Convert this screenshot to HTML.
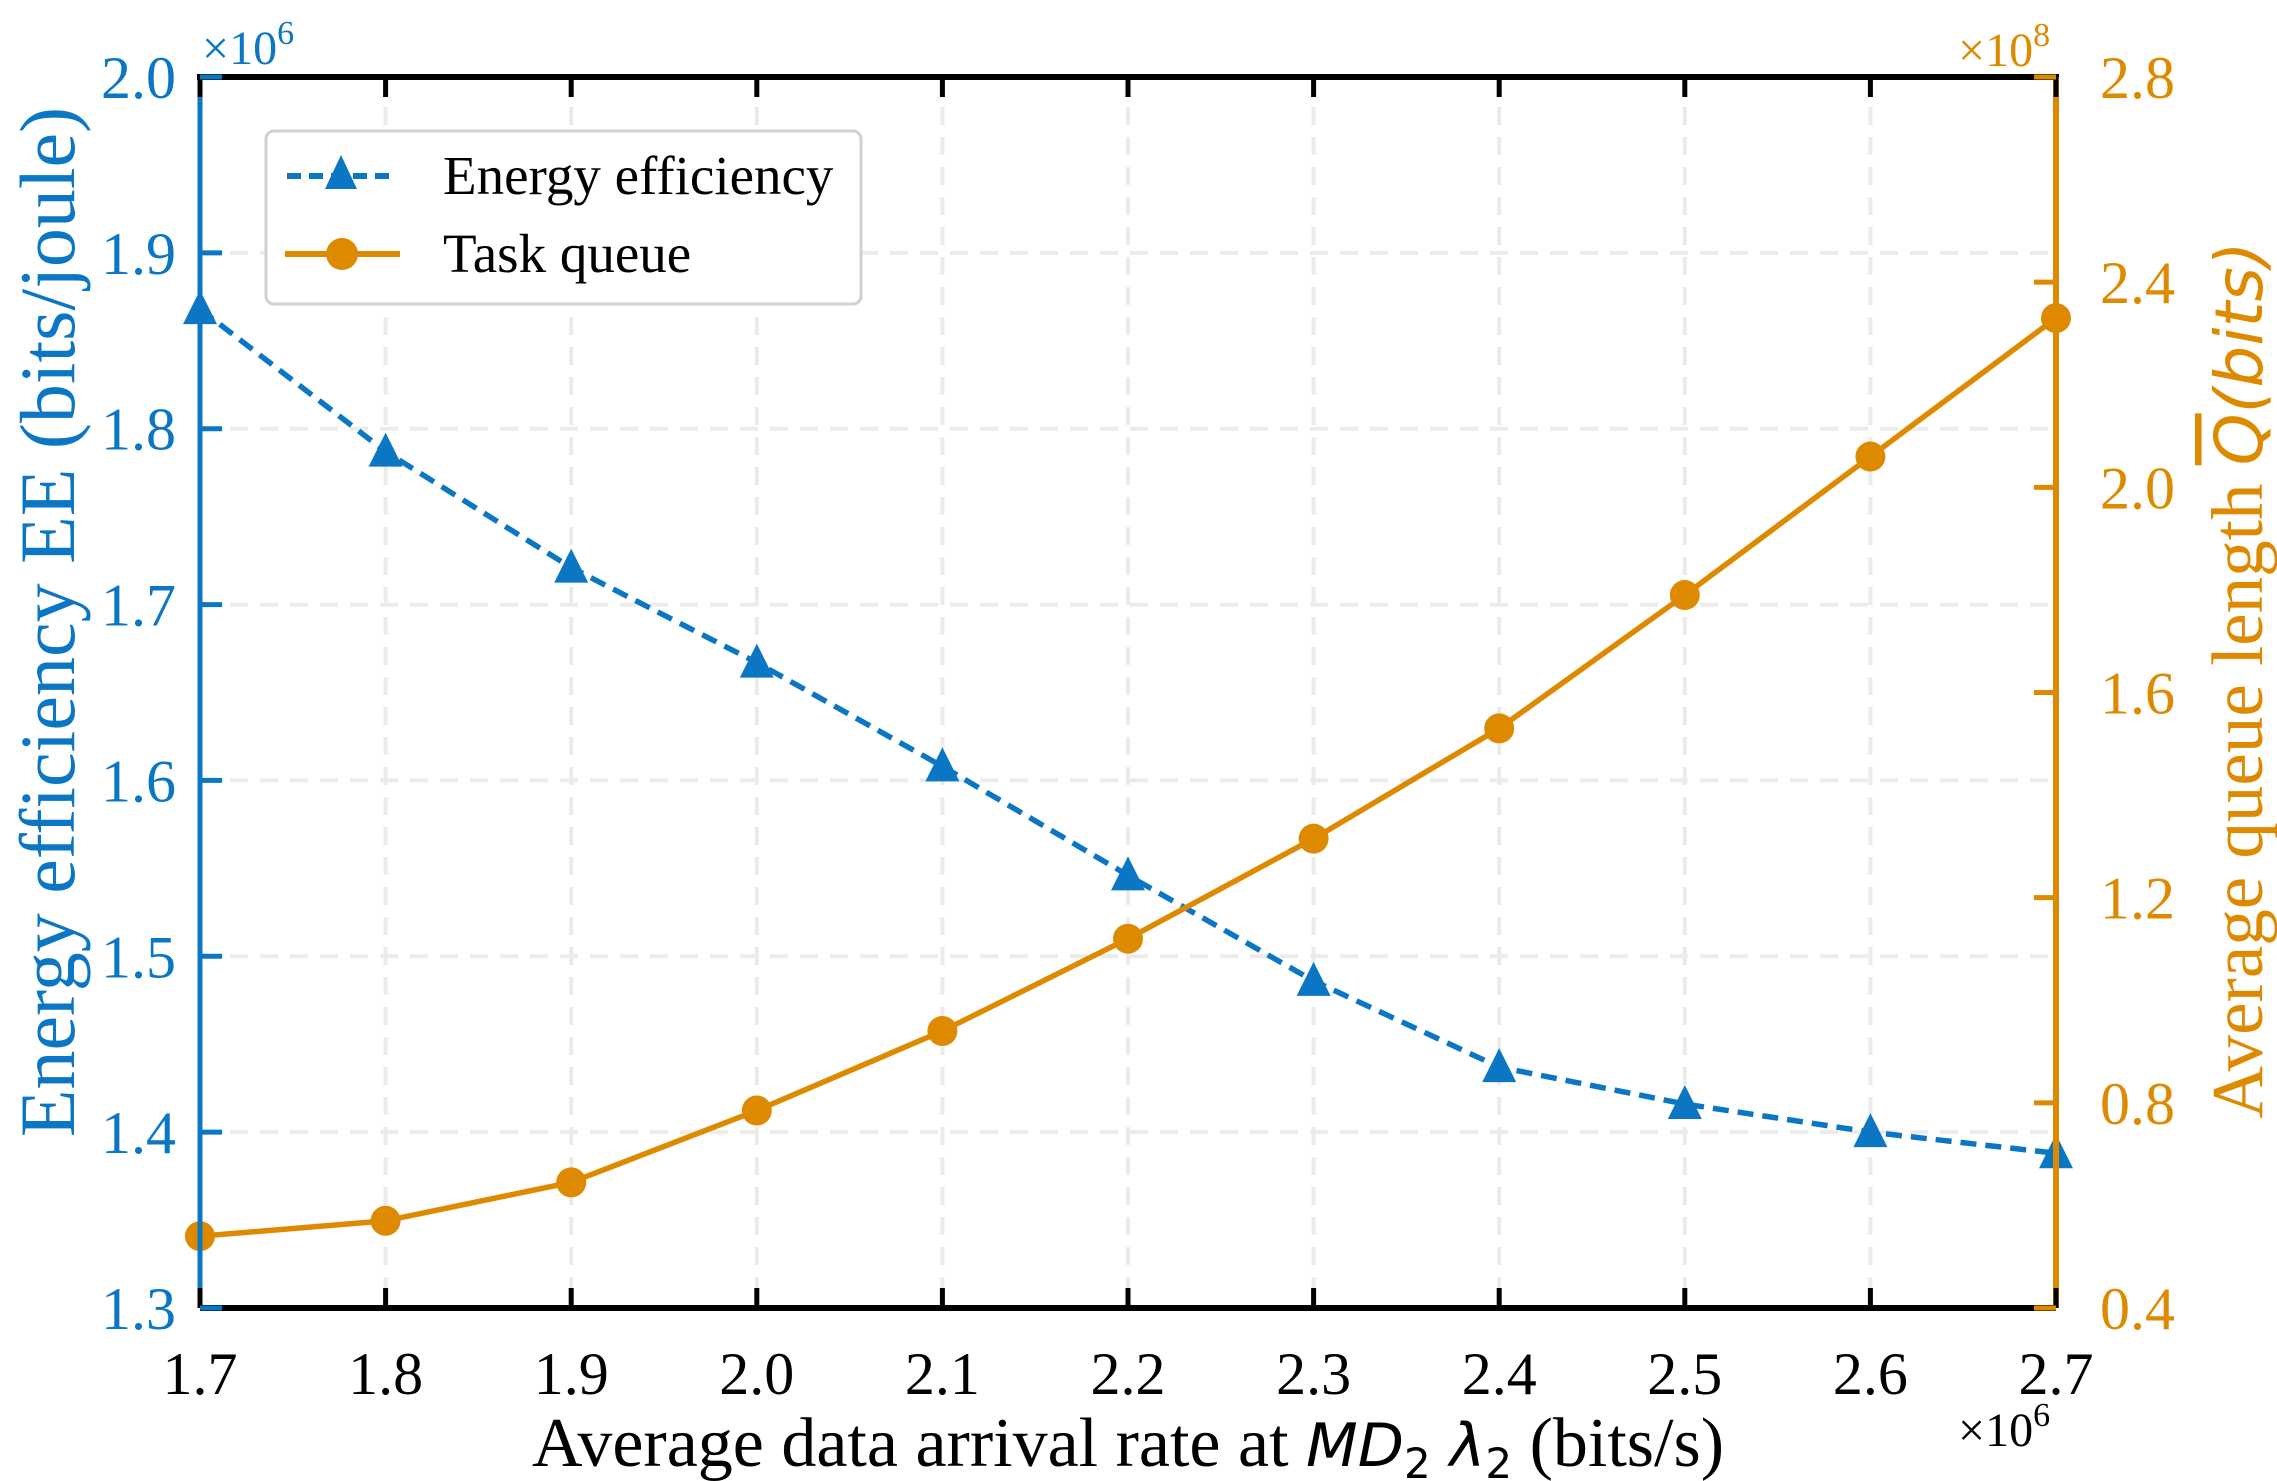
<!DOCTYPE html>
<html><head><meta charset="utf-8"><style>
html,body{margin:0;padding:0;background:#fff;}
svg{display:block;font-family:"Liberation Serif",serif;}
</style></head><body>
<svg id="chart" width="2277" height="1481" viewBox="0 0 2277 1481">
<g id="grid"></g>
<g id="series"></g>
<g id="axes"></g>
<g id="legend">
<rect x="266" y="131" width="595" height="173" rx="8" fill="#fff" stroke="#d0d0d0" stroke-width="3"/>
<g>
<line x1="287" y1="176" x2="396" y2="176" stroke="#0b77c4" stroke-width="6" stroke-dasharray="14,8"/>
<polygon points="341,155 325,189 357,189" fill="#0b77c4"/>
<text x="443" y="194" font-size="55" fill="#000">Energy efficiency</text>
</g>
<g>
<line x1="285" y1="254" x2="400" y2="254" stroke="#de8a00" stroke-width="6"/>
<circle cx="342" cy="254" r="16" fill="#de8a00"/>
<text x="443" y="272" font-size="55" fill="#000">Task queue</text>
</g>
</g>
<text x="202" y="64" font-size="48" fill="#0b77c4">×10<tspan dy="-20" font-size="34">6</tspan></text>
<text x="1958" y="66" font-size="48" fill="#de8a00">×10<tspan dy="-20" font-size="34">8</tspan></text>
<text x="1958" y="1446" font-size="48" fill="#000">×10<tspan dy="-20" font-size="34">6</tspan></text>
<text x="1128" y="1466" font-size="70" text-anchor="middle" fill="#000">Average data arrival rate at <tspan font-family="'DejaVu Sans',sans-serif" font-style="italic" font-size="60">MD</tspan><tspan font-family="'DejaVu Sans',sans-serif" font-size="42" dy="12">2</tspan><tspan dy="-12" font-family="'DejaVu Sans',sans-serif" font-style="italic" font-size="60"> λ</tspan><tspan font-family="'DejaVu Sans',sans-serif" font-size="42" dy="12">2</tspan><tspan dy="-12"> (bits/s)</tspan></text>
<text transform="translate(74,622) rotate(-90)" font-size="78" text-anchor="middle" fill="#0b77c4">Energy efficiency EE (bits/joule)</text>
<text transform="translate(2262,680) rotate(-90)" font-size="73" text-anchor="middle" fill="#de8a00">Average queue length <tspan font-family="'DejaVu Sans',sans-serif" font-style="italic" text-decoration="overline" font-size="66">Q</tspan><tspan font-family="'DejaVu Sans',sans-serif" font-style="italic" font-size="66">(bits)</tspan></text>
</svg>
<script>
const xValues=[1.7,1.8,1.9,2.0,2.1,2.2,2.3,2.4,2.5,2.6,2.7];
const eeValues=[1.868,1.787,1.721,1.667,1.608,1.546,1.486,1.437,1.416,1.400,1.388];
const queueValues=[0.54,0.57,0.645,0.785,0.94,1.12,1.315,1.53,1.79,2.06,2.33];
const xTicks=["1.7","1.8","1.9","2.0","2.1","2.2","2.3","2.4","2.5","2.6","2.7"];
const leftTicks=["1.3","1.4","1.5","1.6","1.7","1.8","1.9","2.0"];
const rightTicks=["0.4","0.8","1.2","1.6","2.0","2.4","2.8"];
const L=200,R=2056,T=77,B=1308;
const BLUE="#0b77c4",ORANGE="#de8a00",NS="http://www.w3.org/2000/svg";
const xs=v=>L+(v-1.7)/(1.0)*(R-L);
const yl=v=>B-(v-1.3)/0.7*(B-T);
const yr=v=>B-(v-0.4)/2.4*(B-T);
function mk(tag,attrs,parent){const e=document.createElementNS(NS,tag);for(const k in attrs)e.setAttribute(k,attrs[k]);document.getElementById(parent).appendChild(e);return e;}
xTicks.forEach(t=>{const x=xs(+t);if(x>L+1&&x<R-1){const g=mk('line',{x1:x,y1:T,x2:x,y2:B,stroke:'#ebebeb','stroke-width':4,'stroke-dasharray':'18,12'},'grid');

}});
leftTicks.forEach(t=>{const y=yl(+t);if(y>T+1&&y<B-1){const g=mk('line',{x1:L,y1:y,x2:R,y2:y,stroke:'#ebebeb','stroke-width':4,'stroke-dasharray':'18,12'},'grid');

}});
const eeLine=mk('polyline',{points:xValues.map((x,i)=>xs(x)+','+yl(eeValues[i])).join(' '),fill:'none',stroke:BLUE,'stroke-width':5.5,'stroke-dasharray':'16,9'},'series');


const qLine=mk('polyline',{points:xValues.map((x,i)=>xs(x)+','+yr(queueValues[i])).join(' '),fill:'none',stroke:ORANGE,'stroke-width':5.5},'series');


xValues.forEach((x,i)=>{const cx=xs(x),cy=yl(eeValues[i]);
const m=mk('polygon',{points:`${cx},${cy-19} ${cx-17},${cy+15} ${cx+17},${cy+15}`,fill:BLUE},'series');


const c=mk('circle',{cx:cx,cy:yr(queueValues[i]),r:15,fill:ORANGE},'series');

});
const a1=mk('line',{x1:L-3,y1:T,x2:R+3,y2:T,stroke:'#000','stroke-width':6},'axes');


const a2=mk('line',{x1:L,y1:B,x2:R,y2:B,stroke:'#000','stroke-width':6},'axes');


const a3=mk('line',{x1:L,y1:T,x2:L,y2:B,stroke:BLUE,'stroke-width':5},'axes');


const a4=mk('line',{x1:R,y1:T,x2:R,y2:B,stroke:ORANGE,'stroke-width':6},'axes');


xTicks.forEach(t=>{const x=xs(+t);
const tk=mk('line',{x1:x,y1:B,x2:x,y2:B-20,stroke:'#000','stroke-width':5},'axes');


const tt=mk('line',{x1:x,y1:T,x2:x,y2:T+20,stroke:'#000','stroke-width':5},'axes');


const lb=mk('text',{x:x,y:B+86,'font-size':60,'text-anchor':'middle',fill:'#000'},'axes');lb.textContent=t;

});
leftTicks.forEach(t=>{const y=yl(+t);
const tk=mk('line',{x1:L,y1:y,x2:L+22,y2:y,stroke:BLUE,'stroke-width':5},'axes');


const lb=mk('text',{x:L-24,y:y+21,'font-size':60,'text-anchor':'end',fill:BLUE},'axes');lb.textContent=t;

});
rightTicks.forEach(t=>{const y=yr(+t);
const tk=mk('line',{x1:R,y1:y,x2:R-22,y2:y,stroke:ORANGE,'stroke-width':5},'axes');


const lb=mk('text',{x:R+44,y:y+21,'font-size':60,'text-anchor':'start',fill:ORANGE},'axes');lb.textContent=t;

});
</script>
</body></html>
